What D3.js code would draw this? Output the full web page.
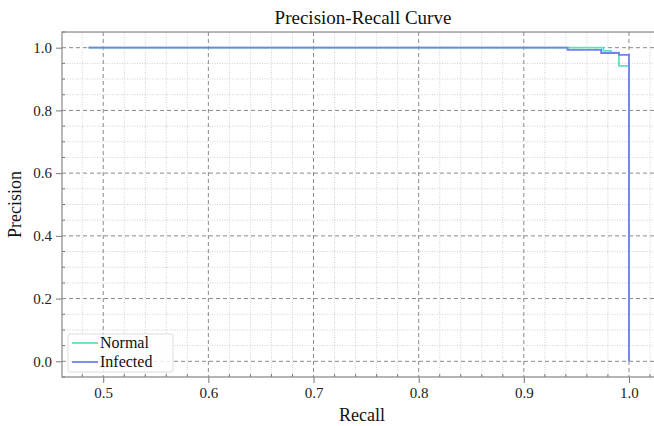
<!DOCTYPE html>
<html>
<head>
<meta charset="utf-8">
<script src="https://cdn.jsdelivr.net/npm/d3@7"></script>
<style>
  body { margin: 0; background: #fff; }
  svg { display: block; font-family: "Liberation Serif", "Times New Roman", serif; }
</style>
</head>
<body>
<svg id="chart" width="654" height="426"></svg>
<script>
// step points (recall, precision) - precision holds until next recall
var normal_recall    = [0.486, 0.9755, 0.983, 0.9905, 1.0];
var normal_precision = [1.0,   0.990,  0.984, 0.942,  0.0];
var infected_recall    = [0.486, 0.9416, 0.9735, 0.9905, 1.0];
var infected_precision = [1.0,   0.993,  0.983,  0.977,  0.0];

var x_ticks = [0.5, 0.6, 0.7, 0.8, 0.9, 1.0];
var y_ticks = [0.0, 0.2, 0.4, 0.6, 0.8, 1.0];

var series = [
    {name: "Normal", color: "#62e3b7", recall: normal_recall, precision: normal_precision},
    {name: "Infected", color: "#7480ef", recall: infected_recall, precision: infected_precision}
];

var svg = d3.select("#chart");
var margin = {left: 62, top: 32, right: 656, bottom: 377};

var x = d3.scaleLinear().domain([0.4608, 1.0257]).range([margin.left, margin.right]);
var y = d3.scaleLinear().domain([-0.05, 1.05]).range([margin.bottom, margin.top]);

svg.append("defs").append("clipPath").attr("id", "clip")
    .append("rect")
    .attr("x", margin.left).attr("y", margin.top)
    .attr("width", margin.right - margin.left).attr("height", margin.bottom - margin.top);

// minor grid
var x_minor = d3.range(0.48, 1.03, 0.02).filter(function(v) { return Math.abs(v * 10 - Math.round(v * 10)) > 0.01; });
var y_minor = d3.range(-0.05, 1.06, 0.05).filter(function(v) { return Math.abs(v * 5 - Math.round(v * 5)) > 0.01; });

var grid = svg.append("g").attr("clip-path", "url(#clip)");
grid.selectAll("line.xminor").data(x_minor).enter().append("line")
    .attr("x1", function(d) { return x(d); }).attr("x2", function(d) { return x(d); })
    .attr("y1", margin.top).attr("y2", margin.bottom)
    .attr("stroke", "#c4c4c4").attr("stroke-width", 0.8).attr("stroke-dasharray", "1,1.5");
grid.selectAll("line.yminor").data(y_minor).enter().append("line")
    .attr("y1", function(d) { return y(d); }).attr("y2", function(d) { return y(d); })
    .attr("x1", margin.left).attr("x2", margin.right)
    .attr("stroke", "#c4c4c4").attr("stroke-width", 0.8).attr("stroke-dasharray", "1,1.5");

// major grid
grid.selectAll("line.xmajor").data(x_ticks).enter().append("line")
    .attr("x1", function(d) { return x(d); }).attr("x2", function(d) { return x(d); })
    .attr("y1", margin.top).attr("y2", margin.bottom)
    .attr("stroke", "#8a8a8a").attr("stroke-width", 1).attr("stroke-dasharray", "4,3");
grid.selectAll("line.ymajor").data(y_ticks).enter().append("line")
    .attr("y1", function(d) { return y(d); }).attr("y2", function(d) { return y(d); })
    .attr("x1", margin.left).attr("x2", margin.right)
    .attr("stroke", "#8a8a8a").attr("stroke-width", 1).attr("stroke-dasharray", "4,3");

// curves
var line = d3.line()
    .x(function(d) { return x(d[0]); })
    .y(function(d) { return y(d[1]); })
    .curve(d3.curveStepAfter);

series.forEach(function(s) {
    var pts = s.recall.map(function(r, i) { return [r, s.precision[i]]; });
    svg.append("path")
        .attr("clip-path", "url(#clip)")
        .attr("d", line(pts))
        .attr("fill", "none")
        .attr("stroke", s.color)
        .attr("stroke-width", 1.8);
});

// axes
var x_axis = svg.append("g").attr("transform", "translate(0," + margin.bottom + ")")
    .call(d3.axisBottom(x).tickValues(x_ticks).tickFormat(d3.format(".1f")).tickSize(6).tickPadding(4));
var y_axis = svg.append("g").attr("transform", "translate(" + margin.left + ",0)")
    .call(d3.axisLeft(y).tickValues(y_ticks).tickFormat(d3.format(".1f")).tickSize(6).tickPadding(4));

[x_axis, y_axis].forEach(function(a) {
    a.select(".domain").remove();
    a.selectAll("line").attr("stroke", "#777");
    a.selectAll("text").attr("font-size", 15).attr("fill", "#222")
        .attr("font-family", "Liberation Serif, Times New Roman, serif");
});

// minor ticks inward
svg.append("g").selectAll("line").data(x_minor).enter().append("line")
    .attr("x1", function(d) { return x(d); }).attr("x2", function(d) { return x(d); })
    .attr("y1", margin.bottom).attr("y2", margin.bottom - 3)
    .attr("stroke", "#777");
svg.append("g").selectAll("line").data(y_minor).enter().append("line")
    .attr("y1", function(d) { return y(d); }).attr("y2", function(d) { return y(d); })
    .attr("x1", margin.left).attr("x2", margin.left + 3)
    .attr("stroke", "#777");

// spines
svg.append("rect")
    .attr("x", margin.left).attr("y", margin.top)
    .attr("width", margin.right - margin.left).attr("height", margin.bottom - margin.top)
    .attr("fill", "none").attr("stroke", "#888").attr("stroke-width", 1.2);

// labels
svg.append("text").attr("x", 363).attr("y", 24)
    .attr("text-anchor", "middle").attr("font-size", 19).attr("fill", "#111")
    .text("Precision-Recall Curve");
svg.append("text").attr("x", 362).attr("y", 421)
    .attr("text-anchor", "middle").attr("font-size", 18).attr("fill", "#111")
    .text("Recall");
svg.append("text")
    .attr("transform", "translate(21," + ((margin.top + margin.bottom) / 2) + ") rotate(-90)")
    .attr("text-anchor", "middle").attr("font-size", 18).attr("fill", "#111")
    .text("Precision");

// legend
var legend = svg.append("g");
legend.append("rect")
    .attr("x", 68).attr("y", 334).attr("width", 105).attr("height", 38).attr("rx", 2)
    .attr("fill", "#fff").attr("fill-opacity", 0.85).attr("stroke", "#ddd");
series.forEach(function(s, i) {
    var ly = 343 + i * 19;
    legend.append("line").attr("x1", 72).attr("x2", 98).attr("y1", ly).attr("y2", ly)
        .attr("stroke", s.color).attr("stroke-width", 1.8);
    legend.append("text").attr("x", 100).attr("y", ly + 5)
        .attr("font-size", 16).attr("fill", "#111").text(s.name);
});
</script>
</body>
</html>
